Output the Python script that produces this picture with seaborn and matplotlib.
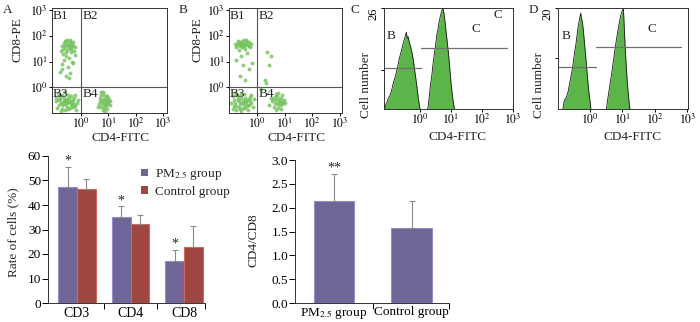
import matplotlib
matplotlib.use("Agg")
import matplotlib.pyplot as plt
import numpy as np
import pandas as pd
import seaborn as sns

# ---- flow cytometry dot plots (log10 coordinates) ----
a_b1_x = [-0.62, -0.55, -0.48, -0.40, -0.33, -0.70, -0.58, -0.45, -0.37, -0.28, -0.66, -0.52, -0.43, -0.35,
          -0.25, -0.60, -0.50, -0.41, -0.30, -0.72, -0.56, -0.47, -0.38, -0.22, -0.64, -0.53, -0.44, -0.32,
          -0.68, -0.49, -0.70, -0.40, -0.55, -0.30, -0.62, -0.45, -0.20, -0.75, -0.36, -0.58]
a_b1_y = [1.72, 1.78, 1.70, 1.75, 1.66, 1.60, 1.58, 1.62, 1.55, 1.60, 1.50, 1.45, 1.52, 1.48,
          1.42, 1.80, 1.85, 1.83, 1.76, 1.40, 1.36, 1.66, 1.68, 1.56, 1.30, 1.20, 1.12, 1.00,
          0.90, 0.80, 0.70, 0.55, 0.45, 0.95, 1.05, 0.35, 1.25, 0.60, 1.38, 1.64]
a_b3_x = [-0.90, -0.82, -0.75, -0.68, -0.60, -0.52, -0.45, -0.38, -0.30, -0.22, -0.15,
          -0.88, -0.78, -0.70, -0.62, -0.55, -0.48, -0.40, -0.32, -0.25, -0.18,
          -0.85, -0.72, -0.65, -0.58, -0.50, -0.42, -0.35, -0.28, -0.12,
          -0.80, -0.68, -0.57, -0.46, -0.36, -0.26,
          -0.92, -0.63, -0.53, -0.43, -0.33, -0.74, -0.60, -0.50, -0.20]
a_b3_y = [-0.55, -0.70, -0.45, -0.62, -0.52, -0.75, -0.58, -0.66, -0.48, -0.72, -0.60,
          -0.80, -0.35, -0.85, -0.40, -0.65, -0.30, -0.82, -0.55, -0.42, -0.88,
          -0.25, -0.60, -0.70, -0.90, -0.45, -0.55, -0.35, -0.78, -0.50,
          -0.50, -0.30, -0.48, -0.86, -0.60, -0.65,
          -0.40, -0.52, -0.62, -0.40, -0.72, -0.92, -0.20, -0.58, -0.30]
a_b4_x = [0.70, 0.78, 0.85, 0.92, 1.00, 1.06, 0.66, 0.75, 0.82, 0.88, 0.95, 1.03,
          0.72, 0.80, 0.86, 0.90, 0.97, 1.08, 0.68, 0.77, 0.84, 0.93, 1.00,
          0.74, 0.82, 0.88, 0.95, 0.62, 0.87, 0.91]
a_b4_y = [-0.40, -0.55, -0.30, -0.48, -0.62, -0.70, -0.65, -0.75, -0.45, -0.60, -0.85, -0.50,
          -0.20, -0.90, -0.68, -0.38, -0.35, -0.55, -0.52, -0.62, -0.80, -0.72, -0.42,
          -0.30, -0.18, -0.95, -0.58, -0.78, -0.48, -0.66]

b_b1_x = [-0.80, -0.72, -0.65, -0.58, -0.50, -0.42, -0.35, -0.28, -0.20,
          -0.76, -0.68, -0.60, -0.53, -0.46, -0.38, -0.30, -0.24,
          -0.70, -0.62, -0.55, -0.48, -0.40, -0.32,
          -0.66, -0.45, -0.36, -0.58, -0.74, -0.50, -0.28, -0.62, -0.42, -0.55, -0.18]
b_b1_y = [1.70, 1.65, 1.75, 1.68, 1.72, 1.66, 1.74, 1.62, 1.70,
          1.58, 1.80, 1.62, 1.78, 1.60, 1.82, 1.76, 1.58,
          1.72, 1.68, 1.64, 1.85, 1.70, 1.66,
          1.45, 1.50, 1.35, 1.20, 1.05, 0.85, 0.70, 0.45, 0.30, 1.55, 0.95]
b_b3_x = [-0.92, -0.84, -0.76, -0.68, -0.60, -0.52, -0.44, -0.36, -0.28, -0.20, -0.12,
          -0.88, -0.80, -0.72, -0.64, -0.56, -0.48, -0.40, -0.32, -0.24, -0.16,
          -0.86, -0.74, -0.66, -0.58, -0.50, -0.42, -0.34, -0.26,
          -0.82, -0.70, -0.62, -0.54, -0.46, -0.38, -0.30, -0.78, -0.58, -0.44, -0.22]
b_b3_y = [-0.60, -0.48, -0.72, -0.40, -0.66, -0.55, -0.82, -0.50, -0.70, -0.62, -0.45,
          -0.85, -0.62, -0.30, -0.75, -0.42, -0.65, -0.58, -0.88, -0.36, -0.78,
          -0.35, -0.90, -0.55, -0.28, -0.80, -0.40, -0.68, -0.52,
          -0.72, -0.48, -0.85, -0.60, -0.25, -0.74, -0.45, -0.22, -0.92, -0.55, -0.30]
b_b4_x = [0.58, 0.66, 0.74, 0.82, 0.90, 0.98, 0.62, 0.70, 0.78, 0.86, 0.94,
          0.55, 0.68, 0.76, 0.84, 0.92, 1.02, 0.64, 0.72, 0.80, 0.88, 0.75, 0.45, 0.50, 0.83, 0.70]
b_b4_y = [-0.45, -0.60, -0.35, -0.52, -0.66, -0.48, -0.75, -0.28, -0.62, -0.40, -0.58,
          -0.55, -0.50, -0.82, -0.70, -0.30, -0.62, -0.38, -0.66, -0.45, -0.85, -0.22, -0.70, -0.40, -0.55, -0.90]
b_b2_x = [0.36, 0.52, 0.29, 0.33, 0.15, 0.45]
b_b2_y = [1.36, 1.22, 0.27, 0.18, -0.05, 0.85]

# ---- histograms: (log10 CD4-FITC, cell number) ----
c_peak1_x = [-1.13, -1.10, -1.06, -1.03, -0.99, -0.95, -0.92, -0.88, -0.84, -0.80, -0.76, -0.72, -0.68, -0.64,
             -0.60, -0.56, -0.52, -0.48, -0.44, -0.41, -0.38, -0.34, -0.30, -0.26, -0.22, -0.18, -0.14,
             -0.10, -0.06, -0.03, 0.0]
c_peak1_y = [0, 1.2, 1.8, 2.6, 3.2, 3.8, 4.6, 6.0, 7.2, 8.3, 9.5, 10.8, 12.5, 13.8,
             15.0, 16.3, 17.5, 18.6, 19.8, 18.2, 18.6, 17.0, 16.0, 14.6, 12.8, 10.5, 8.2,
             5.8, 3.2, 1.5, 0]
c_peak2_x = [0.25, 0.28, 0.31, 0.34, 0.38, 0.42, 0.46, 0.50, 0.54, 0.58, 0.62, 0.66, 0.70, 0.74,
             0.77, 0.80, 0.84, 0.88, 0.92, 0.96, 1.00, 1.04, 1.08, 1.11]
c_peak2_y = [0, 1.8, 4.0, 6.3, 8.5, 11.5, 14.0, 16.2, 19.0, 20.5, 22.5, 24.0, 25.2, 26.0,
             24.8, 23.0, 20.0, 17.2, 14.2, 10.5, 6.8, 3.8, 1.5, 0]
d_peak1_x = [-0.83, -0.80, -0.77, -0.73, -0.70, -0.67, -0.63, -0.59, -0.55, -0.51, -0.47, -0.43, -0.39, -0.36,
             -0.33, -0.30, -0.28, -0.26, -0.23, -0.20, -0.17, -0.14, -0.11, -0.08, -0.05, -0.02, 0.01, 0.03]
d_peak1_y = [0, 1.2, 1.9, 2.2, 2.8, 3.4, 4.8, 6.2, 7.5, 9.2, 11.2, 12.8, 14.8, 16.4,
             17.3, 18.4, 19.0, 18.0, 17.2, 15.6, 13.4, 11.2, 9.0, 6.8, 4.6, 2.8, 1.4, 0]
d_peak2_x = [0.51, 0.54, 0.57, 0.60, 0.63, 0.67, 0.70, 0.74, 0.77, 0.80, 0.84, 0.87, 0.90, 0.94,
             0.97, 1.00, 1.03, 1.05, 1.07, 1.09, 1.12, 1.15, 1.18, 1.21, 1.23]
d_peak2_y = [0, 1.5, 2.8, 4.0, 5.4, 7.0, 8.4, 10.2, 11.7, 13.0, 14.6, 15.8, 16.9, 18.2,
             19.0, 19.5, 20.0, 17.5, 14.5, 11.7, 8.5, 5.5, 3.2, 1.2, 0]

# ---- bar charts ----
cell_types = ["CD3", "CD4", "CD8"]
group_names = ["PM$_{2.5}$ group", "Control group"]
pm_mean = [47.3, 35.3, 17.2]
pm_sd = [8.3, 4.1, 4.4]
ctrl_mean = [46.5, 32.3, 22.7]
ctrl_sd = [4.2, 3.5, 8.8]
pm_sig = ["*", "*", "*"]
ratio_mean = [2.15, 1.58]
ratio_sd = [0.56, 0.56]
ratio_sig = ["**", ""]

purple = "#6a5d9f"
red = "#ae3a31"
green_dot = "#74c25e"
green_fill = "#5cb548"

sns.set_theme(style="ticks")
plt.rcParams["font.family"] = ["Liberation Serif", "DejaVu Serif"]
plt.rcParams["mathtext.fontset"] = "stix"
plt.rcParams["font.size"] = 9
plt.rcParams["axes.linewidth"] = 0.7
plt.rcParams["xtick.major.width"] = 0.7
plt.rcParams["ytick.major.width"] = 0.7
plt.rcParams["xtick.color"] = "black"
plt.rcParams["ytick.color"] = "black"
plt.rcParams["axes.edgecolor"] = "#333333"

W, H = 700, 322
fig = plt.figure(figsize=(7.0, 3.22), dpi=100)


def px_axes(left, top, right, bottom):
    return fig.add_axes([left / W, 1 - bottom / H, (right - left) / W, (bottom - top) / H])


pow_labels = ["$10^{0}$", "$10^{1}$", "$10^{2}$", "$10^{3}$"]
decades = [1, 10, 100, 1000]


def dot_panel(ax, clusters, xlim, ylab_x):
    for cx, cy in clusters:
        sns.scatterplot(x=10 ** np.array(cx), y=10 ** np.array(cy), ax=ax, s=8,
                        color=green_dot, linewidth=0, alpha=0.8)
    ax.set_xscale("log")
    ax.set_yscale("log")
    ax.set_xlim(10 ** xlim[0], 10 ** xlim[1])
    ax.set_ylim(10 ** -1.0, 10 ** 3.08)
    ax.axvline(1, color="#555555", lw=0.8)
    ax.axhline(1, color="#555555", lw=0.8)
    ax.set_xticks(decades)
    ax.set_xticklabels(pow_labels, fontsize=8.5)
    ax.set_yticks(decades)
    ax.set_yticklabels(pow_labels, fontsize=8.5)
    ax.tick_params(which="major", length=2.5, pad=0.5)
    ax.tick_params(which="minor", length=1.5, width=0.5)
    ax.set_xlabel("CD4-FITC", fontsize=9.5)
    ax.set_ylabel("CD8-PE", fontsize=9.5)
    ax.yaxis.set_label_coords(ylab_x, 0.70)
    ax.xaxis.set_label_coords(0.6, -0.185)
    ax.xaxis.label.set_va("top")
    ax.text(10 ** (xlim[0] + 0.03), 10 ** 3.0, "B1", fontsize=9.5, va="top", ha="left")
    ax.text(10 ** 0.05, 10 ** 3.0, "B2", fontsize=9.5, va="top", ha="left")
    ax.text(10 ** (xlim[0] + 0.03), 10 ** -0.02, "B3", fontsize=9.5, va="top", ha="left")
    ax.text(10 ** 0.05, 10 ** -0.02, "B4", fontsize=9.5, va="top", ha="left")


ax_a = px_axes(52, 8, 167, 113)
dot_panel(ax_a, [(a_b1_x, a_b1_y), (a_b3_x, a_b3_y), (a_b4_x, a_b4_y)], (-1.06, 3.15), -0.25)
ax_b = px_axes(229, 8, 342, 113)
dot_panel(ax_b, [(b_b1_x, b_b1_y), (b_b3_x, b_b3_y), (b_b4_x, b_b4_y), (b_b2_x, b_b2_y)],
          (-1.01, 3.07), -0.23)


def hist_panel(ax, peaks, xlim, ymax, gates, labels):
    for px, py in peaks:
        xs = 10 ** np.array(px)
        ax.fill_between(xs, py, 0, color=green_fill, linewidth=0)
        ax.plot(xs, py, color="#1a1a1a", lw=0.6)
    ax.set_xscale("log")
    ax.set_xlim(10 ** xlim[0], 10 ** xlim[1])
    ax.set_ylim(0, ymax)
    for x0, x1, gy in gates:
        ax.plot([10 ** x0, 10 ** x1], [gy, gy], color="#707070", lw=0.9)
    for tx, ty, t in labels:
        ax.text(10 ** tx, ty, t, fontsize=9.5, ha="center", va="center")
    ax.set_xticks(decades)
    ax.set_xticklabels(pow_labels, fontsize=8.5)
    ax.set_yticks([10, ymax])
    ax.set_yticklabels(["", str(ymax)], rotation=90, va="top", fontsize=9)
    ax.tick_params(which="major", length=2.5, pad=0.5)
    ax.tick_params(which="minor", length=1.5, width=0.5)
    ax.set_xlabel("CD4-FITC", fontsize=9.5)
    ax.set_ylabel("Cell number", fontsize=9.5)
    ax.xaxis.set_label_coords(0.57, -0.22)
    ax.xaxis.label.set_va("top")
    ax.yaxis.set_label_coords(-0.09, 0.24)


ax_c = px_axes(384, 8, 513, 109)
hist_panel(ax_c, [(c_peak1_x, c_peak1_y), (c_peak2_x, c_peak2_y)], (-1.16, 3.0), 26,
           [(-1.16, 0.03, 10.6), (0.03, 2.81, 15.7)],
           [(-0.94, 18.8, "B"), (1.8, 20.6, "C"), (2.5, 24.2, "C")])
ax_d = px_axes(558, 8, 688, 109)
hist_panel(ax_d, [(d_peak1_x, d_peak1_y), (d_peak2_x, d_peak2_y)], (-0.98, 3.02), 20,
           [(-0.98, 0.18, 8.3), (0.18, 2.8, 12.3)],
           [(-0.74, 14.5, "B"), (1.9, 15.8, "C")])
ax_d.yaxis.set_label_coords(-0.10, 0.24)

for lab, xp in zip(["A", "B", "C", "D"], [8, 183, 355, 533]):
    fig.text(xp / W, 1 - 10 / H, lab, fontsize=9.5, ha="center", va="center")

# ---- bar chart of cell rates ----
rates = pd.DataFrame({
    "cell": cell_types * 2,
    "group": [group_names[0]] * 3 + [group_names[1]] * 3,
    "rate": pm_mean + ctrl_mean,
})
ax_e = px_axes(48, 156, 205, 303)
sns.barplot(data=rates, x="cell", y="rate", hue="group", palette=[purple, red],
            width=0.7, ax=ax_e, errorbar=None, legend=True)
bars = ax_e.patches[:6]
for bar, sd, ec in zip(bars, pm_sd + ctrl_sd, ["#958cc8"] * 3 + ["#d0675a"] * 3):
    bar.set_edgecolor(ec)
    bar.set_linewidth(0.8)
    xc = bar.get_x() + bar.get_width() / 2
    top = bar.get_height()
    ax_e.errorbar([xc], [top], yerr=[[0], [sd]], color="#8c8c8c", lw=0.8, capsize=2.5, capthick=0.8)
for bar, sd, s in zip(bars[:3], pm_sd, pm_sig):
    xc = bar.get_x() + bar.get_width() / 2
    ax_e.text(xc, bar.get_height() + sd + 2.3, s, ha="center", va="center", fontsize=10)
ax_e.set_ylim(0, 60)
ax_e.set_yticks(range(0, 61, 10))
ax_e.set_xlim(-0.54, 2.39)
ax_e.set_xticks([0, 1, 2])
ax_e.set_xticklabels(cell_types, fontsize=10)
ax_e.set_xticks([0.5, 1.5, 2.39], minor=True)
ax_e.tick_params(axis="x", which="major", length=0, pad=3)
ax_e.tick_params(axis="x", which="minor", length=4, width=0.7, bottom=True)
ax_e.tick_params(axis="y", length=4, pad=1, labelsize=9.5)
ax_e.set_xlabel("")
ax_e.set_ylabel("Rate of cells (%)", fontsize=9.5)
ax_e.yaxis.set_label_coords(-0.18, 0.48)
sns.despine(ax=ax_e)
leg = ax_e.legend(loc="upper left", bbox_to_anchor=(0.56, 0.96), frameon=False, fontsize=9.5,
                  handlelength=0.55, handleheight=0.55, handletextpad=0.5, labelspacing=0.3,
                  borderaxespad=0)
for h in leg.legend_handles:
    h.set_edgecolor("none")

# ---- CD4/CD8 ratio ----
ratio = pd.DataFrame({"group": group_names, "ratio": ratio_mean})
ax_f = px_axes(295, 160, 449, 303)
sns.barplot(data=ratio, x="group", y="ratio", color=purple, width=0.52, ax=ax_f, errorbar=None)
for bar, sd, s in zip(ax_f.patches[:2], ratio_sd, ratio_sig):
    bar.set_edgecolor("#958cc8")
    bar.set_linewidth(0.8)
    xc = bar.get_x() + bar.get_width() / 2
    top = bar.get_height()
    ax_f.errorbar([xc], [top], yerr=[[0], [sd]], color="#8c8c8c", lw=0.8, capsize=2.5, capthick=0.8)
    if s:
        ax_f.text(xc, top + sd + 0.12, s, ha="center", va="center", fontsize=10)
ax_f.set_ylim(0, 3.0)
ax_f.set_yticks(np.arange(0, 3.01, 0.5))
ax_f.set_yticklabels([f"{v:.1f}" for v in np.arange(0, 3.01, 0.5)])
ax_f.set_xlim(-0.5, 1.48)
ax_f.set_xticks([0, 1])
ax_f.set_xticklabels(group_names, fontsize=9.5)
ax_f.set_xticks([0.5, 1.48], minor=True)
ax_f.tick_params(axis="x", which="major", length=0, pad=2)
ax_f.tick_params(axis="x", which="minor", length=4, width=0.7, bottom=True)
ax_f.tick_params(axis="y", length=4, pad=1, labelsize=9.5)
ax_f.set_xlabel("")
ax_f.set_ylabel("CD4/CD8", fontsize=9.5)
ax_f.yaxis.set_label_coords(-0.23, 0.44)
sns.despine(ax=ax_f)

fig.savefig("out.png", dpi=100)
